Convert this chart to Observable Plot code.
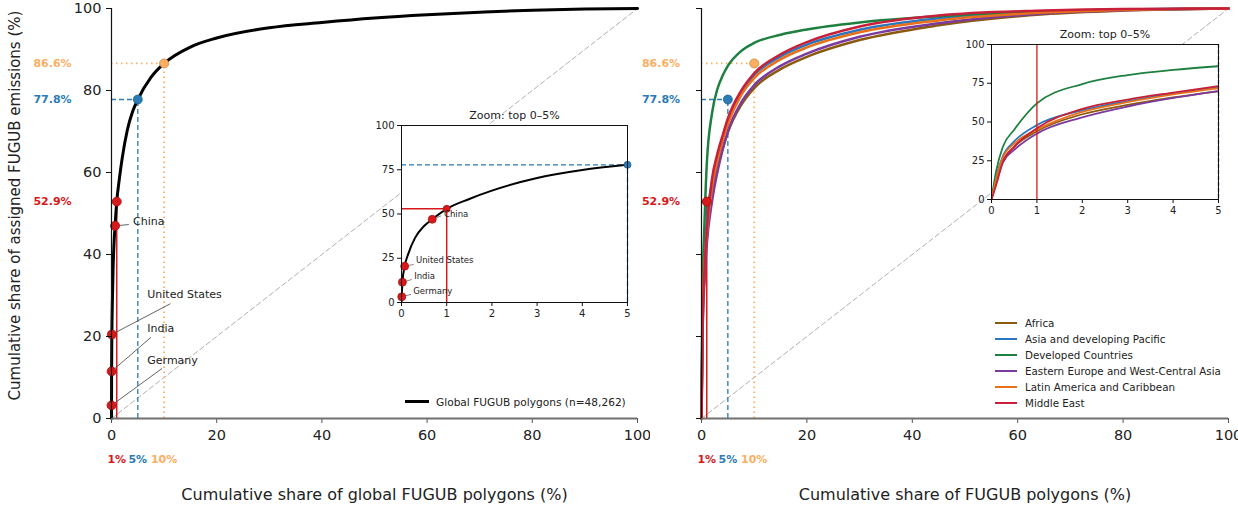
<!DOCTYPE html>
<html><head><meta charset="utf-8">
<script src="https://cdn.jsdelivr.net/npm/d3@7"></script>
<script src="https://cdn.jsdelivr.net/npm/@observablehq/plot@0.6"></script>
<style>
body{margin:0;background:#fff;font-family:"DejaVu Sans",sans-serif;}
#fig{position:relative;width:1238px;height:507px;overflow:hidden;background:#fff;}
.leg{position:absolute;font:10.3px "DejaVu Sans",sans-serif;color:#222;}
.leg .row{display:flex;align-items:center;height:15.9px;white-space:nowrap;}
.leg .sw{width:22px;height:0;border-top:2.5px solid;margin-right:8px;}
</style></head><body><div id="fig"></div>
<script>
// ---------------- DATA ----------------
const xTicks = [0, 20, 40, 60, 80, 100];
const yTicks = [0, 20, 40, 60, 80, 100];
const insetXTicks = [0, 1, 2, 3, 4, 5];
const insetYTicks = [0, 25, 50, 75, 100];

// Global Lorenz-type curve
const globalX = [0, 0.005, 0.02, 0.07, 0.15, 0.3, 0.5, 0.68, 1, 1.5, 2, 3, 4, 5, 7.5, 10, 15, 20, 30, 40, 50, 60, 70, 80, 90, 100];
const globalY = [0, 3.2, 11.5, 20.5, 27.5, 36.5, 43.2, 47, 52.9, 58.5, 63.2, 70.3, 74.8, 77.8, 83.2, 86.6, 90.6, 92.8, 95.3, 96.6, 97.7, 98.5, 99.1, 99.6, 99.9, 100];

// Thresholds
const thresholdLabels = ["1%", "5%", "10%"];
const thresholdX = [1, 5, 10];
const thresholdY = [52.9, 77.8, 86.6];

// Countries
const countryNames = ["China", "United States", "India", "Germany"];
const countryX = [0.68, 0.07, 0.02, 0.005];
const countryY = [47, 20.5, 11.5, 3.2];
// annotation anchor points (data units)
const mainLabelX = [4.1, 6.8, 6.8, 6.8];
const mainLabelY = [48, 30.2, 22, 14.1];
const mainLeaderX = [3.3, 11.2, 7.5, 9.6];
const mainLeaderY = [47.3, 28.0, 19.8, 12.2];
const insetLabelX = [0.94, 0.32, 0.28, 0.26];
const insetLabelY = [50, 23.6, 15.1, 6.6];
const insetLeaderX = [0.88, 0.27, 0.23, 0.21];
const insetLeaderY = [49, 21.5, 13, 4.6];

// Regional curves
const regionNames = ["Africa", "Asia and developing Pacific", "Developed Countries", "Eastern Europe and West-Central Asia", "Latin America and Caribbean", "Middle East"];
const regionX = [0, 0.1, 0.25, 0.5, 1, 2, 3, 4, 5, 7.5, 10, 15, 20, 30, 45, 65, 80, 100];
const africaY        = [0, 12, 25, 34, 44, 55, 61, 65.8, 69.8, 76.4, 80.6, 85.2, 88.2, 92.3, 95.9, 98.6, 99.5, 100];
const asiaY          = [0, 14, 28, 37.5, 48, 57.5, 63.5, 68.5, 72.5, 79.5, 83.8, 88.3, 91.2, 94.8, 97.6, 99.2, 99.75, 100];
const developedY     = [0, 18, 34, 45, 62, 74.5, 80.3, 83.6, 86, 89.6, 91.6, 93.6, 94.9, 96.6, 98.1, 99.3, 99.75, 100];
const easternEuropeY = [0, 11, 24, 32, 42.5, 53, 60, 65.5, 70, 77, 81.3, 86, 89, 93.1, 96.4, 98.8, 99.6, 100];
const latinAmericaY  = [0, 13, 27, 36, 45, 56.5, 62.8, 67.8, 71.8, 78.8, 83, 87.6, 90.5, 94.2, 97.1, 99.0, 99.65, 100];
const middleEastY    = [0, 9, 24, 34, 46, 58.5, 64.5, 69, 73.2, 79.9, 84.2, 88.8, 91.8, 95.6, 98.3, 99.5, 99.9, 100];
const regionSeries = [africaY, asiaY, developedY, easternEuropeY, latinAmericaY, middleEastY];

const equality = [0, 100];

// ---------------- STYLE ----------------
const FONT = "DejaVu Sans";
const THR_COLOR = ["#d7191c", "#2c7bb6", "#fdae61"];
const THR_EDGE = ["#a31214", "#1f5f8f", "#c98840"];
const THR_DASH = [null, "5,3", "1.5,3.5"];
const THR_WIDTH = [1.5, 1.3, 1.8];
const REGION_COLOR = ["#8c5a0f", "#2b77bd", "#1e8040", "#7b3a9e", "#e8701a", "#c8203a"];

// ---------------- TABLES ----------------
const globalCurve = globalX.map((x, i) => ({x, y: globalY[i]}));
const thresholds = thresholdLabels.map((label, i) => ({label, x: thresholdX[i], y: thresholdY[i], i}));
const countries = countryNames.map((name, i) => ({
  name, x: countryX[i], y: countryY[i],
  mlx: mainLabelX[i], mly: mainLabelY[i], mex: mainLeaderX[i], mey: mainLeaderY[i],
  ilx: insetLabelX[i], ily: insetLabelY[i], iex: insetLeaderX[i], iey: insetLeaderY[i]
}));
const regionRows = regionNames.flatMap((name, r) => regionX.map((x, j) => ({name, r, x, y: regionSeries[r][j]})));

const fig = document.getElementById("fig");
function place(svg, left, top) {
  svg.style.position = "absolute";
  svg.style.left = left + "px";
  svg.style.top = top + "px";
  svg.style.maxWidth = "none";
  svg.style.background = "transparent";
  fig.appendChild(svg);
}

function thresholdGuides(list, {full = false} = {}) {
  const marks = [];
  for (const t of list) {
    const o = {stroke: THR_COLOR[t.i], strokeWidth: THR_WIDTH[t.i], strokeDasharray: THR_DASH[t.i]};
    if (full) {
      marks.push(Plot.ruleX([t], {x: "x", ...o}));
    } else {
      marks.push(Plot.ruleX([t], {x: "x", y1: () => 0, y2: "y", ...o}));
      marks.push(Plot.ruleY([t], {y: "y", x1: () => 0, x2: "x", ...o}));
    }
  }
  return marks;
}
function thresholdDots(list, r = 4.5) {
  return list.map(t => Plot.dot([t], {x: "x", y: "y", r, fill: THR_COLOR[t.i], stroke: THR_EDGE[t.i], strokeWidth: 0.8}));
}
function thresholdTexts(dxLeft) {
  const m = [];
  for (const t of thresholds) {
    m.push(Plot.text([t], {y: "y", text: d => d.y.toFixed(1) + "%", frameAnchor: "left", dx: dxLeft, fill: THR_COLOR[t.i], fontWeight: "bold", fontSize: 11, textAnchor: "middle"}));
    m.push(Plot.text([t], {x: "x", text: "label", frameAnchor: "bottom", lineAnchor: "middle", dy: 41, fill: THR_COLOR[t.i], fontWeight: "bold", fontSize: 11, textAnchor: "middle"}));
  }
  return m;
}
function axesMain(showYLabels) {
  return [
    Plot.axisX({ticks: xTicks, tickSize: 5, stroke: "#555", fill: "#222", fontSize: 14.5, tickPadding: 6, label: null, tickFormat: d => String(d)}),
    Plot.axisY({ticks: yTicks, tickSize: 5, stroke: "#111", fill: "#222", fontSize: 14.5, tickPadding: 5, label: null,
      tickFormat: showYLabels ? (d => String(d)) : (() => "")}),
    Plot.ruleY([0], {stroke: "#707070", strokeWidth: 2}),
    Plot.ruleX([0], {stroke: "#111", strokeWidth: 1.2})
  ];
}

// ---------------- LEFT MAIN ----------------
const leftMain = Plot.plot({
  width: 650, height: 507, marginLeft: 111, marginRight: 13, marginTop: 8, marginBottom: 89,
  x: {domain: [0, 100]}, y: {domain: [0, 100]},
  style: {fontFamily: FONT, fontSize: "14px", color: "#222", background: "transparent"},
  marks: [
    Plot.line(equality, {x: d => d, y: d => d, stroke: "#b0b0b0", strokeWidth: 1, strokeDasharray: "5,3"}),
    ...thresholdGuides(thresholds),
    Plot.line(globalCurve, {x: "x", y: "y", stroke: "black", strokeWidth: 3, curve: "monotone-x"}),
    Plot.link(countries, {x1: "x", y1: "y", x2: "mex", y2: "mey", stroke: "#555", strokeWidth: 0.9}),
    Plot.dot(countries, {x: "x", y: "y", r: 4.5, fill: "#d7191c", stroke: "#a31214", strokeWidth: 0.8}),
    ...thresholdDots(thresholds),
    Plot.text(countries, {x: "mlx", y: "mly", text: "name", textAnchor: "start", fontSize: 11, fill: "#222"}),
    ...axesMain(true),
    ...thresholdTexts(-59),
    Plot.text(["Cumulative share of global FUGUB polygons (%)"], {frameAnchor: "bottom", lineAnchor: "middle", dy: 76, fontSize: 16, fill: "#222", textAnchor: "middle"}),
    Plot.text(["Cumulative share of assigned FUGUB emissions (%)"], {frameAnchor: "left", dx: -96, dy: -8, rotate: -90, fontSize: 15, fill: "#222", textAnchor: "middle"})
  ]
});
place(leftMain, 0, 0);

// ---------------- RIGHT MAIN ----------------
const rightMain = Plot.plot({
  width: 598, height: 507, marginLeft: 61, marginRight: 10, marginTop: 8, marginBottom: 89,
  x: {domain: [0, 100]}, y: {domain: [0, 100]},
  color: {type: "identity"},
  style: {fontFamily: FONT, fontSize: "14px", color: "#222", background: "transparent"},
  marks: [
    Plot.line(equality, {x: d => d, y: d => d, stroke: "#b0b0b0", strokeWidth: 1, strokeDasharray: "5,3"}),
    ...thresholdGuides(thresholds),
    Plot.line(regionRows, {x: "x", y: "y", z: "name", stroke: d => REGION_COLOR[d.r], strokeWidth: 2.5, curve: "monotone-x"}),
    ...thresholdDots(thresholds),
    ...axesMain(false),
    ...thresholdTexts(-40.5),
    Plot.text(["Cumulative share of FUGUB polygons (%)"], {frameAnchor: "bottom", lineAnchor: "middle", dy: 76, fontSize: 16, fill: "#222", textAnchor: "middle"})
  ]
});
place(rightMain, 640, 0);

// ---------------- INSETS ----------------
function insetAxes() {
  return [
    Plot.frame({stroke: "#111", strokeWidth: 1}),
    Plot.axisX({ticks: insetXTicks, tickSize: 4, stroke: "#111", fill: "#222", fontSize: 10, tickPadding: 3, label: null, tickFormat: d => String(d)}),
    Plot.axisY({ticks: insetYTicks, tickSize: 4, stroke: "#111", fill: "#222", fontSize: 10, tickPadding: 3, label: null, tickFormat: d => String(d)}),
    Plot.text(["Zoom: top 0\u20135%"], {frameAnchor: "top", lineAnchor: "middle", dy: -10, fontSize: 11, fill: "#222", textAnchor: "middle"})
  ];
}
const insetThr = thresholds.filter(t => t.x <= 5);

const leftInset = Plot.plot({
  width: 262, height: 219, marginLeft: 29, marginRight: 7, marginTop: 22, marginBottom: 20,
  x: {domain: [0, 5]}, y: {domain: [0, 100]},
  style: {fontFamily: FONT, fontSize: "10px", color: "#222", background: "transparent"},
  marks: [
    Plot.frame({fill: "white"}),
    ...thresholdGuides(insetThr),
    Plot.line(globalCurve.filter(d => d.x <= 5), {x: "x", y: "y", stroke: "black", strokeWidth: 2, curve: "monotone-x", clip: true}),
    Plot.link(countries, {x1: "x", y1: "y", x2: "iex", y2: "iey", stroke: "#555", strokeWidth: 0.7}),
    Plot.dot(countries, {x: "x", y: "y", r: 4, fill: "#d7191c", stroke: "#a31214", strokeWidth: 0.7}),
    ...thresholdDots(insetThr, 3.5),
    Plot.text(countries, {x: "ilx", y: "ily", text: "name", textAnchor: "start", fontSize: 8.5, fill: "#222"}),
    ...insetAxes()
  ]
});
place(leftInset, 372, 103);

const rightInset = Plot.plot({
  width: 263, height: 197, marginLeft: 29, marginRight: 7, marginTop: 22, marginBottom: 20,
  x: {domain: [0, 5]}, y: {domain: [0, 100]},
  color: {type: "identity"},
  style: {fontFamily: FONT, fontSize: "10px", color: "#222", background: "transparent"},
  marks: [
    Plot.frame({fill: "white"}),
    Plot.line(regionRows.filter(d => d.x <= 5), {x: "x", y: "y", z: "name", stroke: d => REGION_COLOR[d.r], strokeWidth: 1.8, curve: "monotone-x", clip: true}),
    Plot.ruleX(thresholds.filter(t => t.x === 1), {x: "x", stroke: THR_COLOR[0], strokeWidth: 1.3}),
    Plot.ruleX(thresholds.filter(t => t.x === 5), {x: "x", stroke: "#1d3f66", strokeWidth: 1.3, strokeDasharray: "4,2"}),
    ...insetAxes()
  ]
});
place(rightInset, 962, 22);

// ---------------- LEGENDS ----------------
const legL = document.createElement("div");
legL.className = "leg";
legL.style.left = "405px"; legL.style.top = "394px"; legL.style.fontSize = "10.6px";
legL.innerHTML = `<div class="row"><span class="sw" style="border-top:3px solid #000;width:24px;margin-right:7px"></span>Global FUGUB polygons (n=48,262)</div>`;
fig.appendChild(legL);

const legR = document.createElement("div");
legR.className = "leg";
legR.style.left = "995px"; legR.style.top = "315.5px";
legR.innerHTML = regionNames.map((n, i) => `<div class="row"><span class="sw" style="border-top-color:${REGION_COLOR[i]}"></span>${n}</div>`).join("");
fig.appendChild(legR);
</script></body></html>
